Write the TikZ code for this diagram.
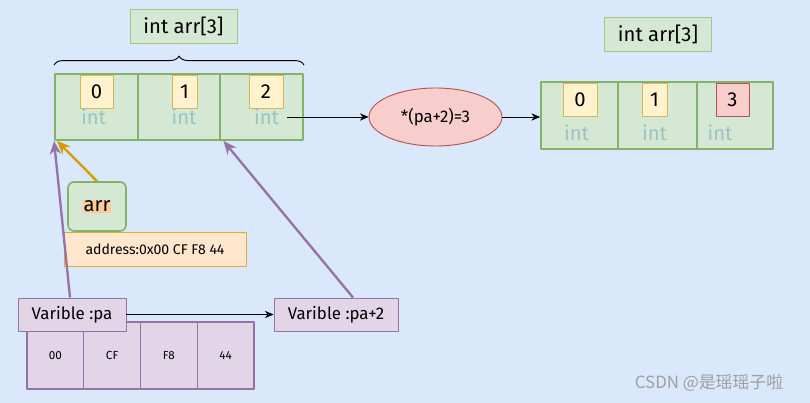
\documentclass[tikz,border=0pt]{standalone}
\usepackage{fontspec}
\setmainfont{Fira Sans}
\newfontfamily\cjkfont{Noto Sans CJK SC}
\usetikzlibrary{arrows.meta, positioning, shapes.geometric,
  decorations.pathreplacing}
\definecolor{pgbg}{HTML}{DAE8FC}
\definecolor{cellfill}{HTML}{D5E8D4}
\definecolor{cellline}{HTML}{82B366}
\definecolor{valfill}{HTML}{FFF2CC}
\definecolor{valline}{HTML}{D6B656}
\definecolor{redfill}{HTML}{F8CECC}
\definecolor{redline}{HTML}{B85450}
\definecolor{purfill}{HTML}{E1D5E7}
\definecolor{purline}{HTML}{9673A6}
\definecolor{addrfill}{HTML}{FFE6CC}
\definecolor{addrline}{HTML}{E0AC3A}
\definecolor{ptrorange}{HTML}{D79B00}
\definecolor{hlorange}{HTML}{FFCC99}
\definecolor{inttext}{HTML}{9CC3C0}
\newcommand{\px}{0.03cm}
\tikzset{
  every picture/.style={line join=round},
  cell/.style={rectangle, draw=cellline, fill=cellfill, line width=1.6pt,
    inner sep=0pt},
  val/.style={rectangle, draw=valline, fill=valfill, line width=0.8pt,
    inner sep=0pt, minimum height=33*\px, font=\LARGE},
  valred/.style={val, draw=redline, fill=redfill},
  typ/.style={text=inttext, font=\LARGE, inner sep=0pt},
  title/.style={rectangle, draw=cellline!75, fill=cellfill, line width=0.8pt,
    minimum width=107*\px, minimum height=34*\px, inner sep=0pt, font=\LARGE},
  var/.style={rectangle, draw=purline, fill=purfill, line width=0.8pt,
    minimum height=33*\px, inner sep=0pt, font=\Large},
  mem/.style={rectangle, draw=purline, fill=purfill, line width=1pt,
    minimum width=56.75*\px, minimum height=67*\px, font=\normalsize},
  link/.style={-{Stealth[length=2.6mm, width=2.2mm]}, draw=black, line width=0.6pt},
  ptr/.style={-{Stealth[length=4mm, width=3.4mm]}, draw=purline, line width=2pt},
  addrptr/.style={ptr, draw=ptrorange},
}

\begin{document}
\begin{tikzpicture}[x=\px, y=-\px]
\fill[pgbg] (0,0) rectangle (810,403);
\useasboundingbox (0,0) rectangle (810,403);

% ---- int arr[3] before the assignment
\node[title] (ttl) at (183.5, 26) {int arr[3]};
\foreach \i in {0,1,2}
  \node[cell, minimum width=82.7*\px, minimum height=66*\px] (a\i)
    at ({55+82.7*(\i+0.5)}, 107) {};
\draw[line width=0.8pt, decorate, decoration={brace, amplitude=9*\px}]
  (a0.north west) ++(0,-8) -- ([yshift=8*\px]a2.north east);
\foreach \i/\x/\w in {0/96.5/33, 1/184.5/25, 2/266/34}
  \node[val, minimum width=\w*\px] (v\i) at (\x, 91.5) {\i};
\foreach \i/\x in {0/93.5, 1/184, 2/266.5}
  \node[typ] (t\i) at (\x, 117) {int};

% ---- the assignment, and the array after it
\node[ellipse, draw=redline, fill=redfill, line width=0.8pt, font=\Large,
  minimum width=133*\px, minimum height=58*\px, inner sep=0pt] (eq)
  at (435.5, 117) {*(pa+2)=3};
\draw[link, shorten <=8*\px] (t2.east) -- (eq.west);

\node[title] (ttr) at (658, 34) {int arr[3]};
\foreach \i/\x/\w in {0/579.5/77, 1/657.5/79, 2/735/76}
  \node[cell, minimum width=\w*\px, minimum height=67*\px] (b\i) at (\x, 115.5) {};
\foreach \i/\x/\w/\v/\s in {0/580/34/0/val, 1/654.5/25/1/val, 2/732.5/33/3/valred}
  \node[\s, minimum width=\w*\px] (w\i) at (\x, 99.5) {\v};
\foreach \i/\x in {0/576.5, 1/654.5, 2/720}
  \node[typ] (u\i) at (\x, 133) {int};
\draw[link] (eq.east) -- (eq.east -| b0.west);

% ---- the name arr and its address
\node[rectangle, rounded corners=6*\px, draw=cellline, fill=cellfill,
  line width=1.4pt, minimum width=58*\px, minimum height=49*\px, font=\LARGE,
  inner sep=0pt] (arr) at (97, 206.5) {\setlength{\fboxsep}{1pt}\colorbox{hlorange}{arr}};
\node[rectangle, draw=addrline, fill=addrfill, line width=0.8pt, font=\large,
  minimum width=182*\px, minimum height=34*\px, inner sep=0pt] (addr) at (155, 249)
  {address:0x00 CF F8 44};
\draw[addrptr] (arr.north) -- ([xshift=3*\px]a0.south west);

% ---- pointer variables
\foreach \i/\v in {0/00, 1/CF, 2/F8, 3/44}
  \node[mem] (m\i) at ({27+56.75*(\i+0.5)}, 355.5) {\v};
\node[var, minimum width=108*\px] (pa) at (72, 314.5) {Varible :pa};
\node[var, minimum width=124*\px] (pa2) at (336, 314.5) {Varible :pa+2};
\draw[link] (pa.east) -- (pa2.west);
\draw[ptr] ([xshift=-2*\px]pa.north) -- (a0.south west);
\draw[ptr] ([xshift=17*\px]pa2.north) -- ([xshift=4*\px]a2.south west);

\node[font=\cjkfont\Large, text=gray!75] (mark) at (709, 383) {CSDN @是瑶瑶子啦};
\end{tikzpicture}
\end{document}
